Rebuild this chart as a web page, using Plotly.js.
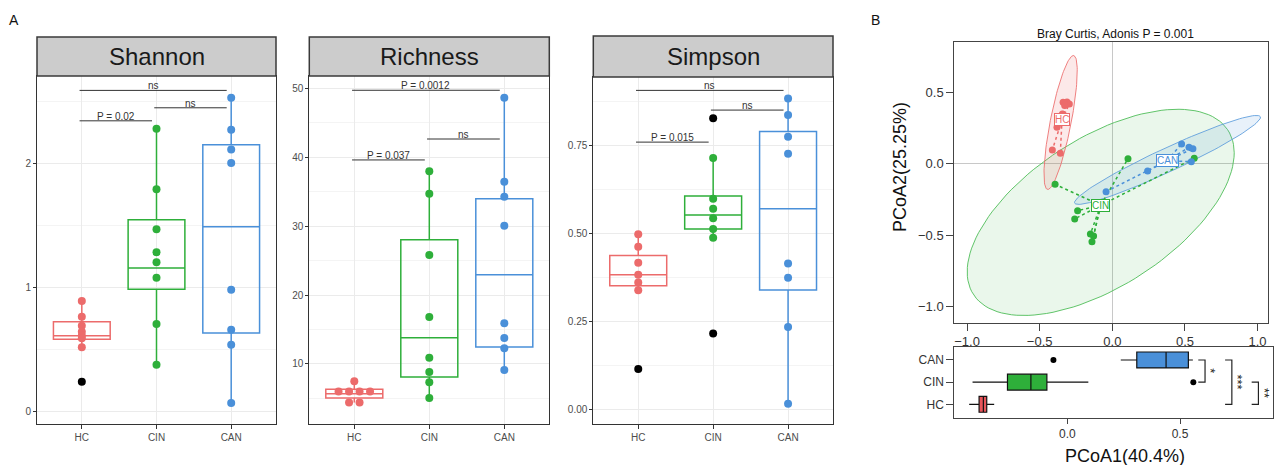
<!DOCTYPE html>
<html><head><meta charset="utf-8">
<script src="https://cdn.plot.ly/plotly-3.0.1.min.js"></script>
<style>html,body{margin:0;padding:0;background:#fff}#chart{width:1274px;height:465px}</style>
</head><body><div id="chart"></div>
<script>
// ---------- data ----------
const groups = ['HC', 'CIN', 'CAN'];
const groupColors = ['#EC6B6B', '#2EAF3A', '#4A90D9'];
const groupFills = ['rgba(236,107,107,0.15)', 'rgba(46,175,58,0.10)', 'rgba(74,144,217,0.13)'];
const groupLines = ['rgba(236,107,107,0.85)', 'rgba(80,190,90,0.9)', 'rgba(90,155,220,0.85)'];
const boxFills = ['#E8555A', '#2EAF3A', '#4A90D9'];

const sigPairs = [[0, 2], [1, 2], [0, 1]];

// Shannon
const shannonValues = [
  [0.894, 0.767, 0.695, 0.647, 0.615, 0.593, 0.521, 0.244],
  [2.281, 1.793, 1.471, 1.286, 1.205, 1.082, 0.709, 0.381],
  [2.531, 2.273, 2.115, 2.005, 0.985, 0.663, 0.542, 0.072]
];
const shannonQ1 = [0.585, 0.988, 0.636];
const shannonMedian = [0.615, 1.159, 1.492];
const shannonQ3 = [0.727, 1.549, 2.152];
const shannonLower = [0.521, 0.381, 0.072];
const shannonUpper = [0.894, 2.281, 2.531];
const shannonSigY = [2.590, 2.450, 2.345];
const shannonSigLabels = ['ns', 'ns', 'P = 0.02'];

// Richness
const richnessValues = [
  [7.5, 6, 6, 6, 6, 4.4, 4.4],
  [37.95, 34.71, 25.81, 16.82, 10.91, 8.84, 7.34, 5.06],
  [48.64, 36.45, 34.27, 30.07, 15.9, 13.77, 12.27, 9.13]
];
const richnessQ1 = [5.06, 8.11, 12.46];
const richnessMedian = [5.69, 13.82, 22.96];
const richnessQ3 = [6.33, 28.04, 33.98];
const richnessLower = [4.4, 5.06, 9.13];
const richnessUpper = [7.5, 37.95, 48.64];
const richnessSigY = [49.71, 42.64, 39.6];
const richnessSigLabels = ['P = 0.0012', 'ns', 'P = 0.037'];

// Simpson
const simpsonValues = [
  [0.499, 0.464, 0.418, 0.384, 0.362, 0.340, 0.1165],
  [0.829, 0.716, 0.600, 0.572, 0.545, 0.514, 0.489, 0.217],
  [0.885, 0.838, 0.776, 0.728, 0.416, 0.376, 0.236, 0.018]
];
const simpsonQ1 = [0.353, 0.514, 0.341];
const simpsonMedian = [0.384, 0.554, 0.572];
const simpsonQ3 = [0.439, 0.608, 0.791];
const simpsonLower = [0.340, 0.489, 0.018];
const simpsonUpper = [0.499, 0.716, 0.885];
const simpsonSigY = [0.908, 0.852, 0.761];
const simpsonSigLabels = ['ns', 'ns', 'P = 0.015'];

// PCoA scores
const hcPC1 = [-0.339, -0.312, -0.296, -0.328, -0.344, -0.381, -0.413, -0.358];
const hcPC2 = [0.430, 0.432, 0.418, 0.407, 0.348, 0.255, 0.097, 0.073];
const cinPC1 = [0.108, 0.564, -0.394, -0.239, -0.259, -0.151, -0.129, -0.140];
const cinPC2 = [0.036, 0.038, -0.144, -0.328, -0.386, -0.491, -0.505, -0.545];
const canPC1 = [0.477, 0.528, 0.555, 0.544, 0.390, 0.330, 0.243, -0.043];
const canPC2 = [0.139, 0.115, 0.106, 0.015, 0.003, 0.040, -0.050, -0.195];

// confidence ellipses (HC, CIN, CAN)
const ellipseCenterX = [-0.356, -0.080, 0.380];
const ellipseCenterY = [0.289, -0.340, 0.027];
const ellipseSemiMajor = [0.477, 1.048, 0.707];
const ellipseSemiMinor = [0.072, 0.517, 0.082];
const ellipseAngleDeg = [79.1, 33.5, 25.3];

// PCoA1 boxplot (HC, CIN, CAN)
const pc1Q1 = [-0.392, -0.266, 0.308];
const pc1Median = [-0.373, -0.162, 0.438];
const pc1Q3 = [-0.358, -0.091, 0.537];
const pc1Lower = [-0.436, -0.421, 0.237];
const pc1Upper = [-0.325, 0.093, 0.557];
const pc1Outliers = [[], [0.559], [-0.062]];

const bracketFrom = [2, 2, 1];
const bracketTo = [1, 0, 0];
const bracketX = [0.611, 0.730, 0.848];
const bracketLabels = ['*', '***', '**'];

// ---------- build ----------
const W = 1274, H = 465;
const px = v => v / W;
const py = v => 1 - v / H;
const FONT = 'Liberation Sans, Arial, Helvetica, sans-serif';

const traces = [], shapes = [], annotations = [];

function dodge(vals) {
  const counts = {}, seen = {};
  vals.forEach(v => counts[v] = (counts[v] || 0) + 1);
  return vals.map(v => {
    const n = counts[v], k = seen[v] || 0;
    seen[v] = k + 1;
    return (k - (n - 1) / 2) * 0.14;
  });
}

function alphaPanel(n, values, q1, med, q3, lo, hi, sigY, sigLabels) {
  const xa = n === 1 ? 'x' : 'x' + n, ya = n === 1 ? 'y' : 'y' + n;
  groups.forEach((g, i) => {
    traces.push({
      type: 'box', x: [i], q1: [q1[i]], median: [med[i]], q3: [q3[i]],
      lowerfence: [lo[i]], upperfence: [hi[i]], boxpoints: false,
      width: 0.76, whiskerwidth: 0, fillcolor: 'rgba(255,255,255,0)',
      line: {color: groupColors[i], width: 1.5},
      xaxis: xa, yaxis: ya, hoverinfo: 'skip', showlegend: false
    });
  });
  groups.forEach((g, i) => {
    const vals = values[i], off = dodge(vals);
    traces.push({
      type: 'scatter', mode: 'markers',
      x: vals.map((v, k) => i + off[k]), y: vals,
      marker: {size: 8, color: vals.map(v => (v < lo[i] - 1e-9 || v > hi[i] + 1e-9) ? '#000000' : groupColors[i])},
      xaxis: xa, yaxis: ya, hoverinfo: 'skip', showlegend: false, cliponaxis: false
    });
  });
  sigPairs.forEach(([a, b], k) => {
    const x0 = a - 0.03, x1 = b - 0.06;
    shapes.push({type: 'line', xref: xa, yref: ya, x0: x0, x1: x1, y0: sigY[k], y1: sigY[k],
      line: {color: '#333333', width: 1}});
    annotations.push({xref: xa, yref: ya, x: (x0 + x1) / 2, y: sigY[k], text: sigLabels[k],
      showarrow: false, xanchor: 'center', yanchor: 'bottom', yshift: -3, font: {size: 10, color: '#333333'}});
  });
}

alphaPanel(1, shannonValues, shannonQ1, shannonMedian, shannonQ3, shannonLower, shannonUpper, shannonSigY, shannonSigLabels);
alphaPanel(2, richnessValues, richnessQ1, richnessMedian, richnessQ3, richnessLower, richnessUpper, richnessSigY, richnessSigLabels);
alphaPanel(3, simpsonValues, simpsonQ1, simpsonMedian, simpsonQ3, simpsonLower, simpsonUpper, simpsonSigY, simpsonSigLabels);

// strips
const strips = [
  {name: 'Shannon', x0: 37, x1: 276, y0: 37, y1: 76},
  {name: 'Richness', x0: 309.3, x1: 549.3, y0: 37, y1: 76},
  {name: 'Simpson', x0: 593.3, x1: 833, y0: 36, y1: 77}
];
strips.forEach(s => {
  shapes.push({type: 'rect', xref: 'paper', yref: 'paper', x0: px(s.x0), x1: px(s.x1), y0: py(s.y1), y1: py(s.y0),
    fillcolor: '#CCCCCC', line: {color: '#3a3a3a', width: 1.5}});
  annotations.push({xref: 'paper', yref: 'paper', x: px((s.x0 + s.x1) / 2), y: py((s.y0 + s.y1) / 2),
    text: s.name, showarrow: false, font: {size: 24, color: '#1a1a1a'}, xanchor: 'center', yanchor: 'middle'});
});

// PCoA
const pcX = [hcPC1, cinPC1, canPC1], pcY = [hcPC2, cinPC2, canPC2];
const ellOrder = [1, 2, 0];
ellOrder.forEach(i => {
  const th = ellipseAngleDeg[i] * Math.PI / 180, ex = [], ey = [];
  for (let k = 0; k <= 120; k++) {
    const t = 2 * Math.PI * k / 120;
    ex.push(ellipseCenterX[i] + ellipseSemiMajor[i] * Math.cos(th) * Math.cos(t) - ellipseSemiMinor[i] * Math.sin(th) * Math.sin(t));
    ey.push(ellipseCenterY[i] + ellipseSemiMajor[i] * Math.sin(th) * Math.cos(t) + ellipseSemiMinor[i] * Math.cos(th) * Math.sin(t));
  }
  traces.push({type: 'scatter', mode: 'lines', x: ex, y: ey, fill: 'toself', fillcolor: groupFills[i],
    line: {color: groupLines[i], width: 1}, xaxis: 'x4', yaxis: 'y4', hoverinfo: 'skip', showlegend: false});
});
const centroids = groups.map((g, i) => [
  pcX[i].reduce((a, b) => a + b, 0) / pcX[i].length,
  pcY[i].reduce((a, b) => a + b, 0) / pcY[i].length
]);
groups.forEach((g, i) => {
  const lx = [], ly = [];
  pcX[i].forEach((v, k) => { lx.push(centroids[i][0], v, null); ly.push(centroids[i][1], pcY[i][k], null); });
  traces.push({type: 'scatter', mode: 'lines', x: lx, y: ly, line: {color: groupColors[i], width: 1.5, dash: 'dot'},
    xaxis: 'x4', yaxis: 'y4', hoverinfo: 'skip', showlegend: false});
});
groups.forEach((g, i) => {
  traces.push({type: 'scatter', mode: 'markers', x: pcX[i], y: pcY[i], marker: {size: 7, color: groupColors[i]},
    xaxis: 'x4', yaxis: 'y4', hoverinfo: 'skip', showlegend: false});
  annotations.push({xref: 'x4', yref: 'y4', x: centroids[i][0], y: centroids[i][1], text: g, showarrow: false,
    xanchor: 'center', yanchor: 'middle',
    font: {size: 10, color: groupColors[i]}, bgcolor: '#ffffff', bordercolor: groupColors[i], borderwidth: 1, borderpad: 0});
});

// PCoA1 boxplot
groups.forEach((g, i) => {
  traces.push({type: 'box', orientation: 'h', y: [i], q1: [pc1Q1[i]], median: [pc1Median[i]], q3: [pc1Q3[i]],
    lowerfence: [pc1Lower[i]], upperfence: [pc1Upper[i]], boxpoints: false, width: 0.72, whiskerwidth: 0,
    fillcolor: boxFills[i], line: {color: '#111111', width: 1.2}, xaxis: 'x5', yaxis: 'y5', hoverinfo: 'skip', showlegend: false});
  if (pc1Outliers[i].length) {
    traces.push({type: 'scatter', mode: 'markers', x: pc1Outliers[i], y: pc1Outliers[i].map(() => i),
      marker: {size: 6, color: '#000000'}, xaxis: 'x5', yaxis: 'y5', hoverinfo: 'skip', showlegend: false});
  }
});
bracketX.forEach((bx, k) => {
  const a = bracketFrom[k], b = bracketTo[k];
  shapes.push({type: 'path', xref: 'x5', yref: 'y5',
    path: `M ${bx - 0.03},${a} L ${bx},${a} L ${bx},${b} L ${bx - 0.03},${b}`, line: {color: '#222222', width: 1.2}});
  annotations.push({xref: 'x5', yref: 'y5', x: bx + 0.026, y: (a + b) / 2, text: bracketLabels[k], showarrow: false,
    xanchor: 'center', yanchor: 'middle', textangle: 90, font: {size: 13, color: '#222222'}});
});

// panel labels & titles
function paperText(x, y, text, size, angle) {
  annotations.push({xref: 'paper', yref: 'paper', x: px(x), y: py(y), text: text, showarrow: false,
    xanchor: 'center', yanchor: 'middle', textangle: angle || 0, font: {size: size, color: '#111'}});
}
paperText(14, 20, 'A', 14);
paperText(876, 20, 'B', 14);
paperText(1115, 34, 'Bray Curtis, Adonis P = 0.001', 12);
paperText(900, 167, 'PCoA2(25.25%)', 18, -90);
paperText(1125, 456, 'PCoA1(40.4%)', 18);

// axes
function catAxis(x0, x1, anchor) {
  return {domain: [px(x0), px(x1)], anchor: anchor, range: [-0.6, 2.6], tickmode: 'array', tickvals: [0, 1, 2], ticktext: groups,
    showgrid: true, gridcolor: '#EBEBEB', gridwidth: 1, zeroline: false, showline: true, mirror: true,
    linecolor: '#333333', linewidth: 1, ticks: 'outside', ticklen: 4, tickcolor: '#333333',
    tickfont: {size: 10, color: '#4D4D4D'}, fixedrange: true};
}
function valAxis(y0, y1, anchor, range, dtick, minor, fmt) {
  return {domain: [py(y1), py(y0)], anchor: anchor, range: range, tickmode: 'linear', tick0: 0, dtick: dtick,
    tickformat: fmt, minor: {dtick: minor, tick0: 0, showgrid: true, gridcolor: '#F4F4F4', ticks: ''},
    showgrid: true, gridcolor: '#EBEBEB', gridwidth: 1, zeroline: false, showline: true, mirror: true,
    linecolor: '#333333', linewidth: 1, ticks: 'outside', ticklen: 3, tickcolor: '#333333',
    tickfont: {size: 10, color: '#4D4D4D'}, fixedrange: true};
}

const layout = {
  width: W, height: H, margin: {l: 0, r: 0, t: 0, b: 0}, paper_bgcolor: '#ffffff', plot_bgcolor: '#ffffff',
  font: {family: FONT, color: '#333'}, showlegend: false, boxmode: 'overlay',
  xaxis: catAxis(37, 276, 'y'),
  yaxis: valAxis(76, 424, 'x', [-0.0967, 2.706], 1, 0.5, ''),
  xaxis2: catAxis(309.3, 549.3, 'y2'),
  yaxis2: valAxis(76, 424, 'x2', [1.29, 51.78], 10, 5, ''),
  xaxis3: catAxis(593.3, 833, 'y3'),
  yaxis3: valAxis(77, 424, 'x3', [-0.0398, 0.946], 0.25, 0.125, '.2f'),
  xaxis4: {domain: [px(954.3), px(1268.3)], anchor: 'y4', range: [-1.088, 1.074], tickmode: 'array',
    tickvals: [-1, -0.5, 0, 0.5, 1], tickformat: '.1f', showgrid: false, zeroline: true, zerolinecolor: '#C8C8C8', zerolinewidth: 1,
    showline: true, mirror: true, linecolor: '#444444', linewidth: 1, ticks: 'outside', ticklen: 7, tickcolor: '#444444',
    tickfont: {size: 13, color: '#333'}, fixedrange: true},
  yaxis4: {domain: [py(322.7), py(42.3)], anchor: 'x4', range: [-1.112, 0.85], tickmode: 'array',
    tickvals: [-1, -0.5, 0, 0.5], tickformat: '.1f', showgrid: false, zeroline: true, zerolinecolor: '#C8C8C8', zerolinewidth: 1,
    showline: true, mirror: true, linecolor: '#444444', linewidth: 1, ticks: 'outside', ticklen: 7, tickcolor: '#444444',
    tickfont: {size: 13, color: '#333'}, fixedrange: true},
  xaxis5: {domain: [px(954.3), px(1273.3)], anchor: 'y5', range: [-0.502, 0.914], tickmode: 'array', tickvals: [0, 0.5],
    tickformat: '.1f', showgrid: false, zeroline: false, showline: true, mirror: true, linecolor: '#444444', linewidth: 1,
    ticks: 'outside', ticklen: 5, tickcolor: '#444444', tickfont: {size: 12, color: '#333'}, fixedrange: true},
  yaxis5: {domain: [py(417.7), py(347.3)], anchor: 'x5', range: [-0.605, 2.573], tickmode: 'array', tickvals: [0, 1, 2],
    ticktext: groups, showgrid: false, zeroline: false, showline: true, mirror: true, linecolor: '#444444', linewidth: 1,
    ticks: 'outside', ticklen: 7, tickcolor: '#444444', tickfont: {size: 12, color: '#333'}, fixedrange: true},
  shapes: shapes, annotations: annotations
};

Plotly.newPlot('chart', traces, layout, {displayModeBar: false, staticPlot: true});
</script>
</body></html>
